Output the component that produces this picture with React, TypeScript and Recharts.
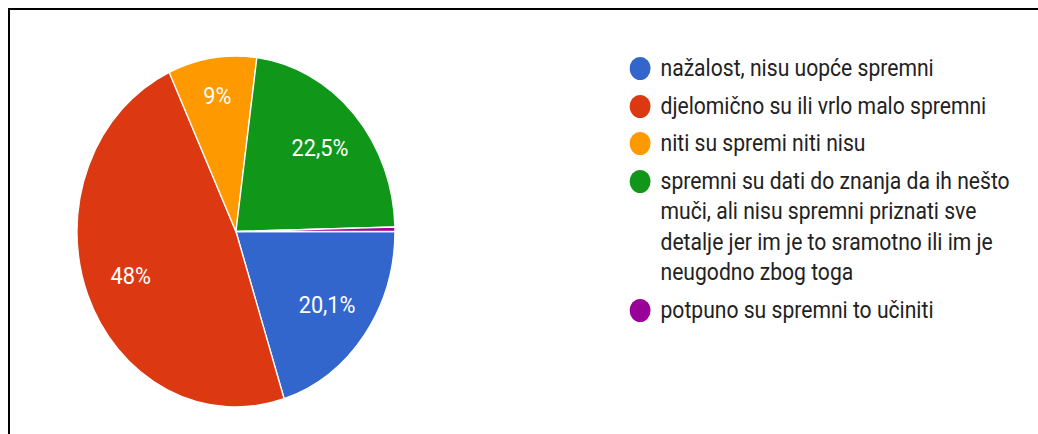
import React from "react";
import { PieChart, Pie, Cell, Legend } from "recharts";

const categories = [
  "nažalost, nisu uopće spremni",
  "djelomično su ili vrlo malo spremni",
  "niti su spremi niti nisu",
  "spremni su dati do znanja da ih nešto muči, ali nisu spremni priznati sve detalje jer im je to sramotno ili im je neugodno zbog toga",
  "potpuno su spremni to učiniti",
];
const shares = [20.1, 48, 9, 22.5, 0.4];
const colors = ["#3366cc", "#dc3912", "#ff9900", "#109618", "#990099"];

const data = categories.map((name, i) => ({ name, value: shares[i] }));

// the reference is squashed horizontally, so the whole chart is drawn wider and scaled
const SX = 0.906;
const RAD = Math.PI / 180;

const renderLabel = (props: any) => {
  const { cx, cy, midAngle, outerRadius, value } = props;
  if (value < 5) return null;
  const r = outerRadius * (value < 10 ? 0.78 : 0.71);
  const x = cx + r * Math.cos(-midAngle * RAD);
  const y = cy + r * Math.sin(-midAngle * RAD);
  return (
    <text
      x={x}
      y={y}
      fill="#ffffff"
      fontSize={24}
      fontFamily="Roboto, Arial, sans-serif"
      textAnchor="middle"
      dominantBaseline="central"
    >
      {String(value).replace(".", ",") + "%"}
    </text>
  );
};

// legend keeps the data order (recharts would sort it by name)
const renderLegend = () => (
  <ul style={{ listStyle: "none", margin: 0, padding: 0 }}>
    {categories.map((name, i) => (
      <li
        key={name}
        style={{
          display: "flex",
          alignItems: "flex-start",
          marginBottom: 7,
          fontFamily: "Roboto, Arial, sans-serif",
          fontSize: 23.3,
          lineHeight: "30.5px",
          color: "#222222",
        }}
      >
        <span
          style={{
            flex: "none",
            width: 23,
            height: 23,
            borderRadius: "50%",
            background: colors[i],
            marginTop: 4,
            marginRight: 11,
          }}
        />
        <span style={{ width: 410 }}>{name}</span>
      </li>
    ))}
  </ul>
);

export default function App() {
  return (
    <div
      style={{
        position: "absolute",
        left: 8,
        top: 8,
        width: 1030,
        height: 426,
        borderTop: "2px solid #000",
        borderLeft: "2px solid #000",
        boxSizing: "border-box",
        overflow: "hidden",
        background: "#fff",
      }}
    >
      <div
        style={{
          position: "absolute",
          left: 0,
          top: 0,
          width: 1134,
          height: 424,
          transform: `scaleX(${SX})`,
          transformOrigin: "0 0",
        }}
      >
        <PieChart
          width={1134}
          height={424}
          margin={{ top: 0, right: 0, bottom: 0, left: 0 }}
        >
          <Pie
            data={data}
            dataKey="value"
            nameKey="name"
            cx={249.4}
            cy={221.5}
            outerRadius={175.5}
            startAngle={0}
            endAngle={-360}
            stroke="#ffffff"
            strokeWidth={1.5}
            label={renderLabel}
            labelLine={false}
            isAnimationActive={false}
          >
            {data.map((d, i) => (
              <Cell key={d.name} fill={colors[i]} />
            ))}
          </Pie>
          <Legend
            layout="vertical"
            align="right"
            verticalAlign="top"
            content={renderLegend}
            wrapperStyle={{ left: 684, top: 43, width: 450 }}
          />
        </PieChart>
      </div>
    </div>
  );
}
